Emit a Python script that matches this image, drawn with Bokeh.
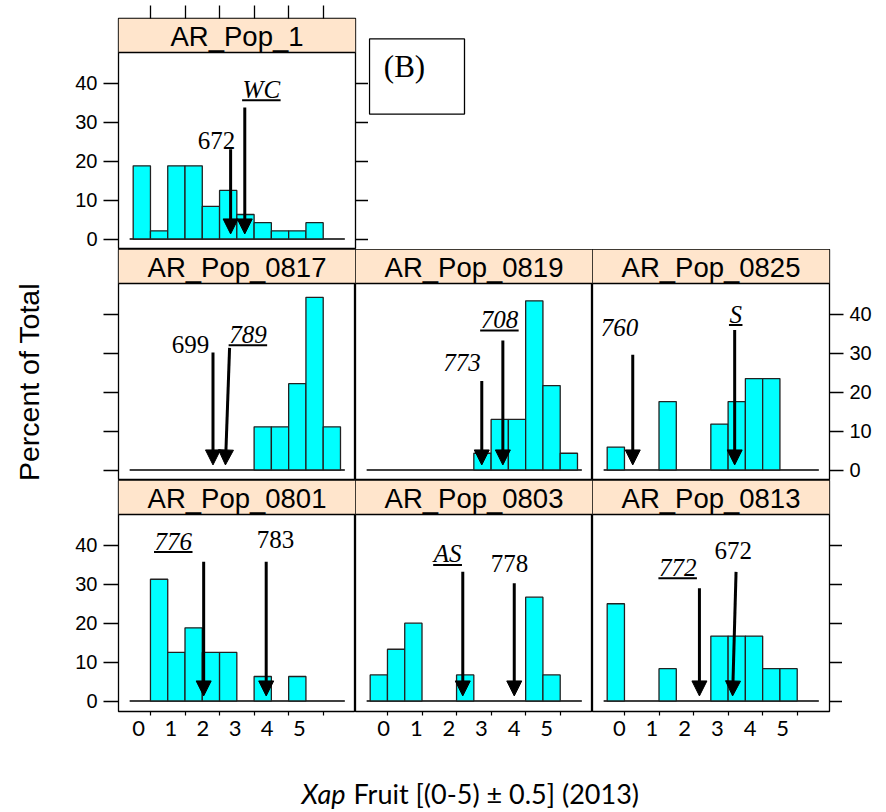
import numpy as np
from bokeh.plotting import figure
from bokeh.layouts import row, column
from bokeh.models import (Range1d, LinearAxis, FixedTicker, BoxAnnotation, Span, Label,
                          Arrow, NormalHead)
from bokeh.core.properties import value
from bokeh.embed import file_html
from bokeh.resources import INLINE

# ---------------- data ----------------
BIN_LEFT = [-0.5, 0.0, 0.5, 1.0, 1.5, 2.0, 2.5, 3.0, 3.5, 4.0, 4.5, 5.0]
BIN_WIDTH = 0.5

PANEL_NAMES = ["AR_Pop_1", "AR_Pop_0817", "AR_Pop_0819", "AR_Pop_0825",
               "AR_Pop_0801", "AR_Pop_0803", "AR_Pop_0813"]

PCT_POP_1 = [18.8, 2.1, 18.8, 18.8, 8.4, 12.5, 6.3, 4.2, 2.1, 2.1, 4.2, 0]
PCT_POP_0817 = [0, 0, 0, 0, 0, 0, 0, 11.1, 11.1, 22.2, 44.4, 11.1]
PCT_POP_0819 = [0, 0, 0, 0, 0, 0, 4.3, 13.0, 13.0, 43.5, 21.7, 4.3]
PCT_POP_0825 = [5.9, 0, 0, 17.6, 0, 0, 11.8, 17.6, 23.5, 23.5, 0, 0]
PCT_POP_0801 = [0, 31.3, 12.5, 18.8, 12.5, 12.5, 0, 6.3, 0, 6.3, 0, 0]
PCT_POP_0803 = [6.7, 13.3, 20.0, 0, 0, 6.7, 0, 0, 0, 26.7, 6.7, 0]
PCT_POP_0813 = [25.0, 0, 0, 8.3, 0, 0, 16.7, 16.7, 16.7, 8.3, 8.3, 0]
PANEL_PCT = [PCT_POP_1, PCT_POP_0817, PCT_POP_0819, PCT_POP_0825,
             PCT_POP_0801, PCT_POP_0803, PCT_POP_0813]

# arrows marking cultivar / parent values in each panel
ARROW_TEXT = [["672", "WC"], ["699", "789"], ["773", "708"], ["760", "S"],
              ["776", "783"], ["AS", "778"], ["772", "672"]]
ARROW_X_TOP = [[2.32, 2.73], [1.81, 2.29], [2.73, 3.34], [0.24, 3.19],
               [1.54, 3.35], [2.18, 3.67], [2.17, 3.23]]
ARROW_X_TIP = [[2.32, 2.73], [1.81, 2.17], [2.73, 3.34], [0.24, 3.19],
               [1.54, 3.35], [2.18, 3.67], [2.17, 3.13]]
ARROW_Y_TOP = [[23.1, 33.8], [30.2, 31.4], [22.9, 33.3], [29.6, 36.0],
               [35.8, 35.8], [33.2, 30.3], [29.0, 33.2]]
ARROW_Y_TIP = 1.3
LABEL_X = [[1.91, 3.21], [1.16, 2.82], [2.16, 3.24], [-0.14, 3.22],
           [0.66, 3.62], [1.74, 3.53], [1.54, 3.15]]
LABEL_Y = [[25.3, 38.5], [32.3, 34.9], [27.6, 38.7], [36.6, 40.1],
           [41.1, 41.6], [37.8, 35.4], [34.4, 38.6]]
LABEL_ITALIC = [[False, True], [False, True], [True, True], [True, True],
                [True, False], [True, False], [True, False]]
LABEL_UNDERLINE = [[False, True], [False, True], [False, True], [False, True],
                   [True, False], [True, False], [True, False]]

X_TICKS = [0, 1, 2, 3, 4, 5]
X_TICK_LABELS = ["0", "1", "2", "3", "4", "5"]
Y_TICKS = [0, 10, 20, 30, 40]
Y_LABEL = "Percent of Total"
X_LABEL_ITALIC = "Xap"
X_LABEL_REST = "Fruit [(0-5) \u00b1 0.5] (2013)"
PANEL_TAG = "(B)"

# ---------------- style / geometry ----------------
FRAME_W = 237
STRIP_H = 34
PANEL_H = 197
FRAME_H = STRIP_H + PANEL_H
PX_PER_X = 34.55
PX_PER_Y = 3.89
ZERO_PX = 10.5
X_LO = -0.925
X_HI = X_LO + FRAME_W / PX_PER_X
Y_LO = -ZERO_PX / PX_PER_Y
Y_PANEL_TOP = (PANEL_H - ZERO_PX) / PX_PER_Y
Y_HI = Y_PANEL_TOP + STRIP_H / PX_PER_Y

LEFT_B = 65
YLAB_W = 53
RIGHT_B = 48
TOP_B = 18
TOP_TICK = 13
BOTTOM_B = 38

STRIP_COLOR = "#ffe5cc"
BAR_COLOR = "#00ffff"
SANS = "Liberation Sans"
SERIF = "Liberation Serif"
CAL = "Lato"
# per-column placement of the bottom tick labels (as drawn in the original)
TICK_LABEL_START = [-0.34, -0.11, -0.15]
TICK_LABEL_STEP = [0.93, 0.944, 0.946]

SERIF_EM = {"0": .5, "1": .5, "2": .5, "3": .5, "4": .5, "5": .5, "6": .5,
            "7": .5, "8": .5, "9": .5, "W": .833, "C": .667, "A": .611, "S": .5}
LABEL_FONT_PX = 25


def y_axis(p, side, show_labels, tick_len):
    ax = LinearAxis(ticker=FixedTicker(ticks=Y_TICKS), axis_line_color=None,
                    major_tick_in=0, major_tick_out=tick_len,
                    major_tick_line_color="black", major_tick_line_width=1.3,
                    minor_tick_line_color=None,
                    major_label_text_font=SANS, major_label_text_font_size="20px",
                    major_label_text_color="black")
    if show_labels:
        ax.major_label_standoff = 6
    else:
        ax.major_label_overrides = {t: "" for t in Y_TICKS}
        ax.major_label_standoff = 0
        ax.major_label_text_font_size = "1px"
    p.add_layout(ax, side)


def top_axis(p):
    ax = LinearAxis(ticker=FixedTicker(ticks=X_TICKS), axis_line_color=None,
                    major_tick_in=0, major_tick_out=TOP_TICK,
                    major_tick_line_color="black", major_tick_line_width=1.3,
                    minor_tick_line_color=None, major_label_standoff=0,
                    major_label_text_font_size="1px",
                    major_label_overrides={t: "" for t in X_TICKS})
    p.add_layout(ax, "above")


def bottom_axis(p, col):
    pos = [TICK_LABEL_START[col] + k * TICK_LABEL_STEP[col] for k in range(len(X_TICKS))]
    ax = LinearAxis(ticker=FixedTicker(ticks=pos, minor_ticks=X_TICKS),
                    axis_line_color=None,
                    major_tick_in=0, major_tick_out=0, major_tick_line_color=None,
                    minor_tick_in=0, minor_tick_out=4,
                    minor_tick_line_color="black", minor_tick_line_width=1.2,
                    major_label_overrides={p_: l for p_, l in zip(pos, X_TICK_LABELS)},
                    major_label_standoff=5,
                    major_label_text_font=CAL, major_label_text_font_size="22px",
                    major_label_text_color="black")
    p.add_layout(ax, "below")


def panel(idx, col, left=None, right=None, above=False, below=False):
    mb_left = LEFT_B if col == 0 else 0
    mb_right = 0
    if right == "labels":
        mb_right = RIGHT_B
    elif right == "ticks":
        mb_right = 13
    p = figure(frame_width=FRAME_W, frame_height=FRAME_H,
               x_range=Range1d(X_LO, X_HI), y_range=Range1d(Y_LO, Y_HI),
               x_axis_location=None, y_axis_location=None,
               toolbar_location=None, output_backend="svg", title=None,
               min_border=0, min_border_left=mb_left, min_border_right=mb_right,
               min_border_top=TOP_B if above else 0,
               min_border_bottom=BOTTOM_B if below else 0)
    p.xgrid.grid_line_color = None
    p.ygrid.grid_line_color = None
    p.outline_line_color = "black"
    p.outline_line_width = 1.3
    p.background_fill_color = "white"
    p.border_fill_color = "white"

    if left == "labels":
        y_axis(p, "left", True, 15)
    elif left == "ticks":
        y_axis(p, "left", False, 15)
    if right == "labels":
        y_axis(p, "right", True, 14)
    elif right == "ticks":
        y_axis(p, "right", False, 13)
    if above:
        top_axis(p)
    if below:
        bottom_axis(p, col)

    # strip
    p.add_layout(BoxAnnotation(bottom=Y_PANEL_TOP, fill_color=STRIP_COLOR, fill_alpha=1,
                               line_color=None, level="underlay"))
    p.add_layout(Span(location=Y_PANEL_TOP, dimension="width", line_color="black",
                      line_width=1.3))
    p.add_layout(Label(x=(X_LO + X_HI) / 2, y=(Y_PANEL_TOP + Y_HI) / 2 - 0.3,
                       text=PANEL_NAMES[idx], text_align="center", text_baseline="middle",
                       text_font=SANS, text_font_size="27.5px", text_color="black"))

    # baseline
    w = X_HI - X_LO
    p.line(x=[X_LO + 0.047 * w, X_HI - 0.045 * w], y=[0, 0], line_color="black",
           line_width=1.3)

    # histogram bars
    pct = PANEL_PCT[idx]
    lefts = [b for b, v in zip(BIN_LEFT, pct) if v > 0]
    tops = [v for v in pct if v > 0]
    p.quad(left=lefts, right=[b + BIN_WIDTH for b in lefts], bottom=0, top=tops,
           fill_color=BAR_COLOR, line_color="#222222", line_width=1.3)

    # arrows + labels
    for k in range(len(ARROW_TEXT[idx])):
        p.add_layout(Arrow(end=NormalHead(size=15, fill_color="black", line_color="black"),
                           x_start=ARROW_X_TOP[idx][k], y_start=ARROW_Y_TOP[idx][k],
                           x_end=ARROW_X_TIP[idx][k], y_end=ARROW_Y_TIP,
                           line_color="black", line_width=3))
        txt = ARROW_TEXT[idx][k]
        lx, ly = LABEL_X[idx][k], LABEL_Y[idx][k]
        p.text(x=[lx], y=[ly], text=[txt], text_font=value(SERIF),
               text_font_size=f"{LABEL_FONT_PX}px",
               text_font_style="italic" if LABEL_ITALIC[idx][k] else "normal",
               text_align="center", text_baseline="middle", text_color="black")
        if LABEL_UNDERLINE[idx][k]:
            wpx = sum(SERIF_EM.get(ch, .5) for ch in txt) * LABEL_FONT_PX + 1
            wd = wpx / PX_PER_X
            uy = ly - 11 / PX_PER_Y
            p.line(x=[lx - wd / 2, lx + wd / 2], y=[uy, uy], line_color="black",
                   line_width=2)
    return p


f11 = panel(0, 0, left="labels", right="ticks", above=True)
f21 = panel(1, 0, left="ticks")
f22 = panel(2, 1)
f23 = panel(3, 2, right="labels")
f31 = panel(4, 0, left="labels", below=True)
f32 = panel(5, 1, below=True)
f33 = panel(6, 2, right="ticks", below=True)

# (B) tag box
ROW1_H = TOP_B + FRAME_H
fb = figure(width=FRAME_W, height=ROW1_H, x_range=Range1d(0, FRAME_W),
            y_range=Range1d(0, ROW1_H), x_axis_location=None, y_axis_location=None,
            toolbar_location=None, output_backend="svg", title=None, min_border=0)
fb.xgrid.grid_line_color = None
fb.ygrid.grid_line_color = None
fb.outline_line_color = None
fb.add_layout(BoxAnnotation(left=1, right=96, top=ROW1_H - 22, bottom=ROW1_H - 103,
                            fill_color="white", fill_alpha=1, line_color="black",
                            line_alpha=1, line_width=1.3))
fb.add_layout(Label(x=36, y=ROW1_H - 52, text=PANEL_TAG, text_align="center",
                    text_baseline="middle", text_font=SERIF, text_font_size="31px",
                    text_color="black"))

# y label
YL_H = TOP_B + 3 * FRAME_H
fy = figure(width=YLAB_W, height=YL_H, x_range=Range1d(0, YLAB_W), y_range=Range1d(0, YL_H),
            x_axis_location=None, y_axis_location=None, toolbar_location=None,
            output_backend="svg", title=None, min_border=0)
fy.xgrid.grid_line_color = None
fy.ygrid.grid_line_color = None
fy.outline_line_color = None
fy.text(x=[28.5], y=[YL_H - 381.5], text=[Y_LABEL], angle=np.pi / 2,
        text_font=value(SANS), text_font_size="28.5px", text_align="center",
        text_baseline="middle", text_color="black")

# x label
XL_W = LEFT_B + 3 * FRAME_W + RIGHT_B
XL_H = 62
fx = figure(width=XL_W, height=XL_H, x_range=Range1d(0, XL_W), y_range=Range1d(0, XL_H),
            x_axis_location=None, y_axis_location=None, toolbar_location=None,
            output_backend="svg", title=None, min_border=0)
fx.xgrid.grid_line_color = None
fx.ygrid.grid_line_color = None
fx.outline_line_color = None
split = 345 - YLAB_W
fx.text(x=[split], y=[18], text=[X_LABEL_ITALIC], text_font=value(CAL),
        text_font_style="italic", text_font_size="27px", text_align="right",
        text_baseline="middle", text_color="black")
fx.text(x=[split + 8], y=[18], text=[X_LABEL_REST], text_font=value(CAL),
        text_font_size="27px", text_align="left", text_baseline="middle",
        text_color="black")

grid = column(row(f11, fb), row(f21, f22, f23), row(f31, f32, f33), fx)
layout = row(fy, grid)

open("out.html", "w").write(file_html(layout, INLINE))
